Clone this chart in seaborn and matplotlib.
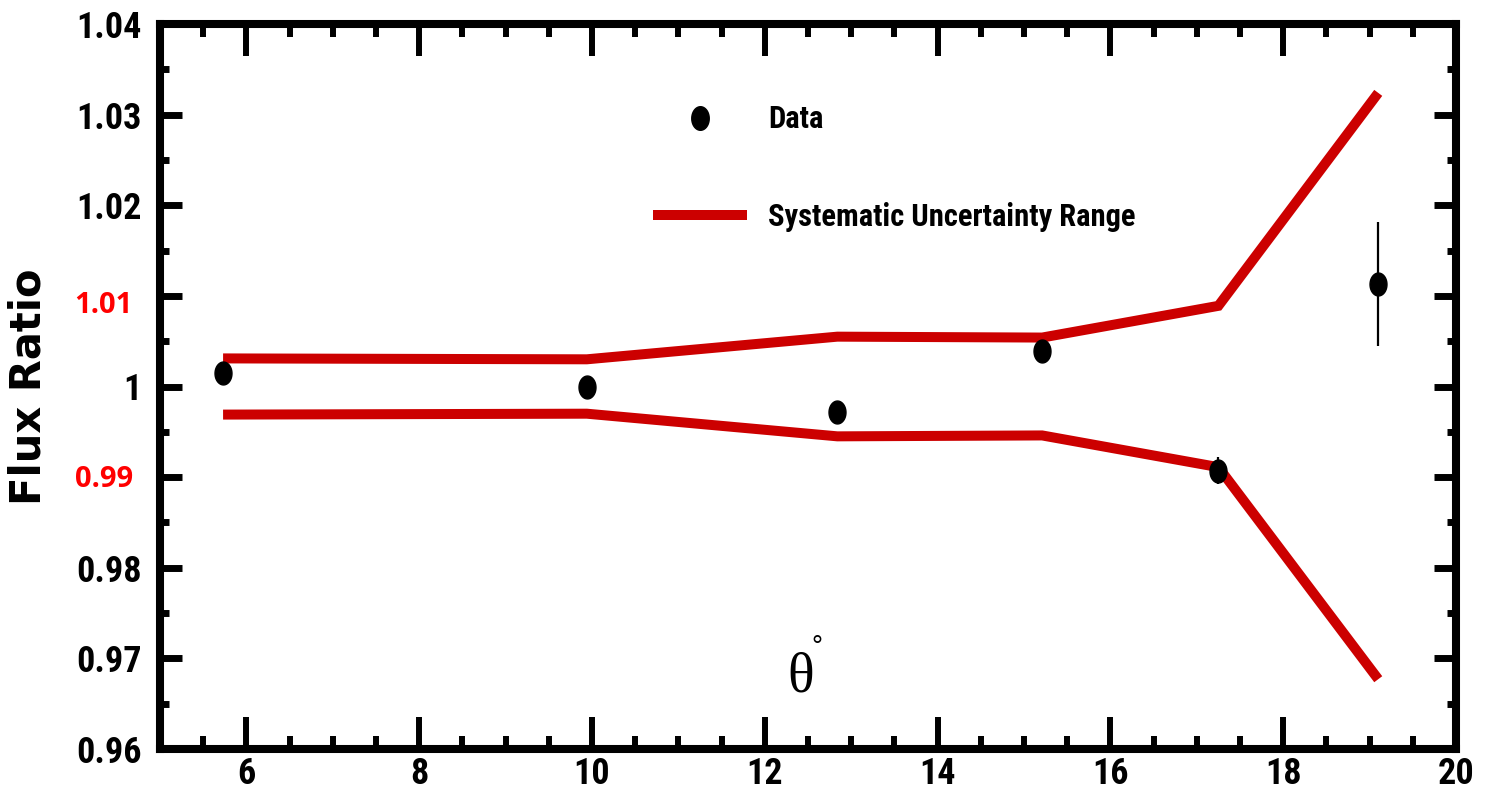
import numpy as np
import matplotlib
matplotlib.use("Agg")
import matplotlib.pyplot as plt
import seaborn as sns
import pandas as pd
from matplotlib import font_manager
from matplotlib.lines import Line2D
from matplotlib.path import Path
from matplotlib.ticker import MultipleLocator, FixedLocator, FixedFormatter
import matplotlib.transforms as mtransforms

# ---- data ----
theta = [5.73, 9.94, 12.84, 15.21, 17.25, 19.10]
flux_ratio = [1.0015, 1.0000, 0.9972, 1.0039, 0.9907, 1.0113]
flux_err = [0.0008, 0.0008, 0.0008, 0.0008, 0.0015, 0.0068]
sys_upper = [1.0031, 1.0030, 1.0055, 1.0054, 1.0089, 1.0324]
sys_lower = [0.9969, 0.9970, 0.9945, 0.9946, 0.9911, 0.9677]

ytick_values = [0.96, 0.97, 0.98, 0.99, 1.00, 1.01, 1.02, 1.03, 1.04]
ytick_labels = ["0.96", "0.97", "0.98", "", "1", "", "1.02", "1.03", "1.04"]
red_labels = {1.01: "1.01", 0.99: "0.99"}
xtick_values = [6, 8, 10, 12, 14, 16, 18, 20]
xtick_labels = ["6", "8", "10", "12", "14", "16", "18", "20"]

sns.set_theme(style="white")
names = {f.name for f in font_manager.fontManager.ttflist}
narrow = "Liberation Sans"
for cand in ["Liberation Sans Narrow", "Roboto Condensed", "Open Sans Condensed",
             "IBM Plex Sans Condensed"]:
    if cand in names:
        narrow = cand
        break
plt.rcParams["font.family"] = [narrow, "DejaVu Sans"]
for k in ["text.color", "axes.labelcolor", "xtick.color", "ytick.color"]:
    plt.rcParams[k] = "black"

fig = plt.figure(figsize=(14.85, 7.94), dpi=100)
ax = fig.add_axes([160 / 1485, 1 - 749 / 794, (1456 - 160) / 1485, (749 - 24) / 794])

df = pd.DataFrame({"theta": theta, "upper": sys_upper, "lower": sys_lower})
red = "#CC0000"
for col in ["upper", "lower"]:
    sns.lineplot(data=df, x="theta", y=col, ax=ax, color=red, linewidth=7.2,
                 sort=False, estimator=None)
for ln in ax.get_lines():
    ln.set_solid_joinstyle("miter")
    ln.set_solid_capstyle("butt")

# ellipse marker (taller than wide)
t = np.linspace(0, 2 * np.pi, 60)
ell = Path(np.column_stack([0.74 * np.cos(t), np.sin(t)]), closed=True)

ax.errorbar(theta, flux_ratio, yerr=flux_err, fmt="none", ecolor="black",
            elinewidth=1.6, capsize=0, zorder=3)
ax.plot(theta, flux_ratio, linestyle="none", marker=ell, markersize=16.5,
        color="black", zorder=4)

ax.set_xlim(5, 20)
ax.set_ylim(0.96, 1.04)
ax.set_xlabel("")
ax.set_ylabel("Flux Ratio", family="DejaVu Sans", fontweight="bold",
              fontsize=30, color="black")
ax.yaxis.set_label_coords(-111 / 1296, 0.5)

ax.xaxis.set_major_locator(FixedLocator(xtick_values))
ax.xaxis.set_major_formatter(FixedFormatter(xtick_labels))
ax.xaxis.set_minor_locator(MultipleLocator(0.5))
ax.yaxis.set_major_locator(FixedLocator(ytick_values))
ax.yaxis.set_major_formatter(FixedFormatter(ytick_labels))
ax.yaxis.set_minor_locator(MultipleLocator(0.005))

for s in ax.spines.values():
    s.set_linewidth(5.8)
    s.set_color("black")

ax.tick_params(axis="x", which="major", direction="in", length=23, width=4.3,
               top=True, bottom=True, pad=5, labelsize=26, colors="black")
ax.tick_params(axis="x", which="minor", direction="in", length=9.5, width=4.3,
               top=True, bottom=True)
ax.tick_params(axis="y", which="major", direction="in", length=16, width=5,
               left=True, right=True, pad=13, labelsize=26, colors="black")
ax.tick_params(axis="y", which="minor", direction="in", length=6.5, width=5,
               left=True, right=True)
for lab in ax.get_xticklabels() + ax.get_yticklabels():
    lab.set_fontweight("bold")

# red tick labels
blend = mtransforms.blended_transform_factory(ax.transAxes, ax.transData)
for val, txt in red_labels.items():
    dy = -0.0011 if val > 1 else -0.0003
    ax.text(-27 / 1296, val + dy, txt, transform=blend, ha="right", va="center",
            color="#FF0000", fontsize=21, fontweight="bold",
            family=["Open Sans", "Lato", "DejaVu Sans"])

# theta label
ax.text(0.4946, 0.099, "θ", transform=ax.transAxes, ha="center", va="center",
        fontsize=40, family=["Liberation Serif", "DejaVu Serif"], color="black")
ax.text(0.507, 0.139, "°", transform=ax.transAxes, ha="center", va="center",
        fontsize=20, family=["Liberation Sans", "DejaVu Sans"], color="black")

# legend
handles = [
    Line2D([], [], linestyle="none", marker=ell, markersize=17, color="black"),
    Line2D([], [], color=red, linewidth=7.2, solid_capstyle="butt"),
]
leg = ax.legend(handles, ["Data", "Systematic Uncertainty Range"],
                loc="center left", bbox_to_anchor=(653 / 1485, 1 - 168 / 794),
                bbox_transform=fig.transFigure, frameon=False,
                handlelength=3.07, handletextpad=0.69, labelspacing=2.2,
                borderpad=0, borderaxespad=0, numpoints=1,
                prop={"weight": "bold", "size": 22, "family": [narrow, "DejaVu Sans"]})
for txt in leg.get_texts():
    txt.set_color("black")

fig.savefig("out.png", dpi=100)
